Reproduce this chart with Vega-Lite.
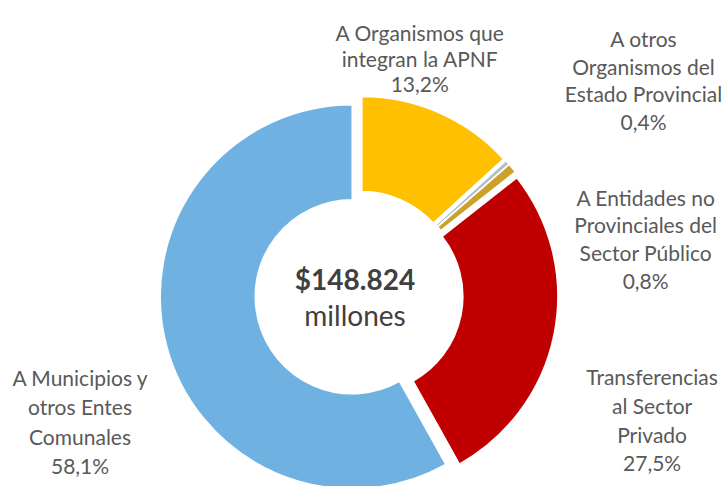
{
  "$schema": "https://vega.github.io/schema/vega-lite/v6.json",
  "width": 725,
  "height": 486,
  "autosize": {"type": "fit", "contains": "padding"},
  "padding": 0,
  "background": "white",
  "config": {"view": {"stroke": null}, "font": "Lato"},
  "data": {
    "values": [
      {"order": 1, "cat": "APNF", "label": "A Organismos que\nintegran la APNF", "pct": 13.2},
      {"order": 2, "cat": "Otros", "label": "A otros\nOrganismos del\nEstado Provincial", "pct": 0.4},
      {"order": 3, "cat": "Entidades", "label": "A Entidades no\nProvinciales del\nSector Público", "pct": 0.8},
      {"order": 4, "cat": "Privado", "label": "Transferencias\nal Sector\nPrivado", "pct": 27.5},
      {"order": 5, "cat": "Municipios", "label": "A Municipios y\notros Entes\nComunales", "pct": 58.1}
    ]
  },
  "transform": [
    {"window": [{"op": "sum", "field": "pct", "as": "cum"}], "sort": [{"field": "order"}], "frame": [null, 0]},
    {"calculate": "datum.cum - datum.pct", "as": "start"},
    {"calculate": "datum.cum - datum.pct / 2", "as": "mid"},
    {"calculate": "sin(datum.mid * 2 * PI / 100)", "as": "ex"},
    {"calculate": "cos(datum.mid * 2 * PI / 100)", "as": "ey"},
    {"calculate": "datum.label + '\\n' + replace(format(datum.pct, '.1f'), '.', ',') + '%'", "as": "txt"}
  ],
  "layer": [
    {
      "mark": {"type": "arc", "outerRadius": 192, "innerRadius": 97, "stroke": "white", "strokeWidth": 1.5},
      "encoding": {
        "x": {"field": "ex", "type": "quantitative", "scale": {"domain": [-1, 1], "range": [352, 366]}, "axis": null},
        "y": {"field": "ey", "type": "quantitative", "scale": {"domain": [-1, 1], "range": [302, 288]}, "axis": null},
        "theta": {"field": "start", "type": "quantitative", "stack": null, "scale": {"domain": [0, 100], "range": [0, 6.283185307]}},
        "theta2": {"field": "cum"},
        "color": {
          "field": "cat", "type": "nominal", "legend": null,
          "scale": {"domain": ["APNF", "Otros", "Entidades", "Privado", "Municipios"], "range": ["#FFC000", "#B3BFCC", "#CBA12A", "#C00000", "#6FB2E2"]}
        }
      }
    },
    {
      "transform": [{"filter": "datum.cat === 'APNF'"}],
      "mark": {"type": "text", "dx": -40, "dy": -31, "align": "center", "baseline": "middle", "lineBreak": "\n", "lineHeight": 25.5, "fontSize": 21, "color": "#595959"},
      "encoding": {
        "x": {"datum": 0, "type": "quantitative", "scale": {"domain": [-1, 1], "range": [352, 366]}, "axis": null},
        "y": {"datum": 0, "type": "quantitative", "scale": {"domain": [-1, 1], "range": [302, 288]}, "axis": null},
        "theta": {"field": "mid", "type": "quantitative", "stack": null, "scale": {"domain": [0, 100], "range": [0, 6.283185307]}},
        "radius": {"value": 250},
        "text": {"field": "txt"}
      }
    },
    {
      "transform": [{"filter": "datum.cat === 'Otros'"}],
      "mark": {"type": "text", "dx": 98, "dy": -87.5, "align": "center", "baseline": "middle", "lineBreak": "\n", "lineHeight": 27.7, "fontSize": 21, "color": "#595959"},
      "encoding": {
        "x": {"datum": 0, "type": "quantitative", "scale": {"domain": [-1, 1], "range": [352, 366]}, "axis": null},
        "y": {"datum": 0, "type": "quantitative", "scale": {"domain": [-1, 1], "range": [302, 288]}, "axis": null},
        "theta": {"field": "mid", "type": "quantitative", "stack": null, "scale": {"domain": [0, 100], "range": [0, 6.283185307]}},
        "radius": {"value": 250},
        "text": {"field": "txt"}
      }
    },
    {
      "transform": [{"filter": "datum.cat === 'Entidades'"}],
      "mark": {"type": "text", "dx": 94, "dy": 64, "align": "center", "baseline": "middle", "lineBreak": "\n", "lineHeight": 27.7, "fontSize": 21, "color": "#595959"},
      "encoding": {
        "x": {"datum": 0, "type": "quantitative", "scale": {"domain": [-1, 1], "range": [352, 366]}, "axis": null},
        "y": {"datum": 0, "type": "quantitative", "scale": {"domain": [-1, 1], "range": [302, 288]}, "axis": null},
        "theta": {"field": "mid", "type": "quantitative", "stack": null, "scale": {"domain": [0, 100], "range": [0, 6.283185307]}},
        "radius": {"value": 250},
        "text": {"field": "txt"}
      }
    },
    {
      "transform": [{"filter": "datum.cat === 'Privado'"}],
      "mark": {"type": "text", "dx": 48, "dy": 35, "align": "center", "baseline": "middle", "lineBreak": "\n", "lineHeight": 28.7, "fontSize": 21, "color": "#595959"},
      "encoding": {
        "x": {"datum": 0, "type": "quantitative", "scale": {"domain": [-1, 1], "range": [352, 366]}, "axis": null},
        "y": {"datum": 0, "type": "quantitative", "scale": {"domain": [-1, 1], "range": [302, 288]}, "axis": null},
        "theta": {"field": "mid", "type": "quantitative", "stack": null, "scale": {"domain": [0, 100], "range": [0, 6.283185307]}},
        "radius": {"value": 250},
        "text": {"field": "txt"}
      }
    },
    {
      "transform": [{"filter": "datum.cat === 'Municipios'"}],
      "mark": {"type": "text", "dx": -37, "dy": 22, "align": "center", "baseline": "middle", "lineBreak": "\n", "lineHeight": 29.3, "fontSize": 21, "color": "#595959"},
      "encoding": {
        "x": {"datum": 0, "type": "quantitative", "scale": {"domain": [-1, 1], "range": [352, 366]}, "axis": null},
        "y": {"datum": 0, "type": "quantitative", "scale": {"domain": [-1, 1], "range": [302, 288]}, "axis": null},
        "theta": {"field": "mid", "type": "quantitative", "stack": null, "scale": {"domain": [0, 100], "range": [0, 6.283185307]}},
        "radius": {"value": 250},
        "text": {"field": "txt"}
      }
    },
    {
      "data": {"values": [{"total": "$148.824", "unit": "millones"}]},
      "mark": {"type": "text", "dy": -13, "dx": -4, "align": "center", "baseline": "middle", "fontSize": 28, "fontWeight": "bold", "color": "#404040"},
      "encoding": {
        "x": {"datum": 0, "type": "quantitative", "scale": {"domain": [-1, 1], "range": [352, 366]}, "axis": null},
        "y": {"datum": 0, "type": "quantitative", "scale": {"domain": [-1, 1], "range": [302, 288]}, "axis": null},
        "text": {"field": "total"}
      }
    },
    {
      "data": {"values": [{"total": "$148.824", "unit": "millones"}]},
      "mark": {"type": "text", "dy": 23, "dx": -4, "align": "center", "baseline": "middle", "fontSize": 28, "color": "#404040"},
      "encoding": {
        "x": {"datum": 0, "type": "quantitative", "scale": {"domain": [-1, 1], "range": [352, 366]}, "axis": null},
        "y": {"datum": 0, "type": "quantitative", "scale": {"domain": [-1, 1], "range": [302, 288]}, "axis": null},
        "text": {"field": "unit"}
      }
    }
  ]
}
